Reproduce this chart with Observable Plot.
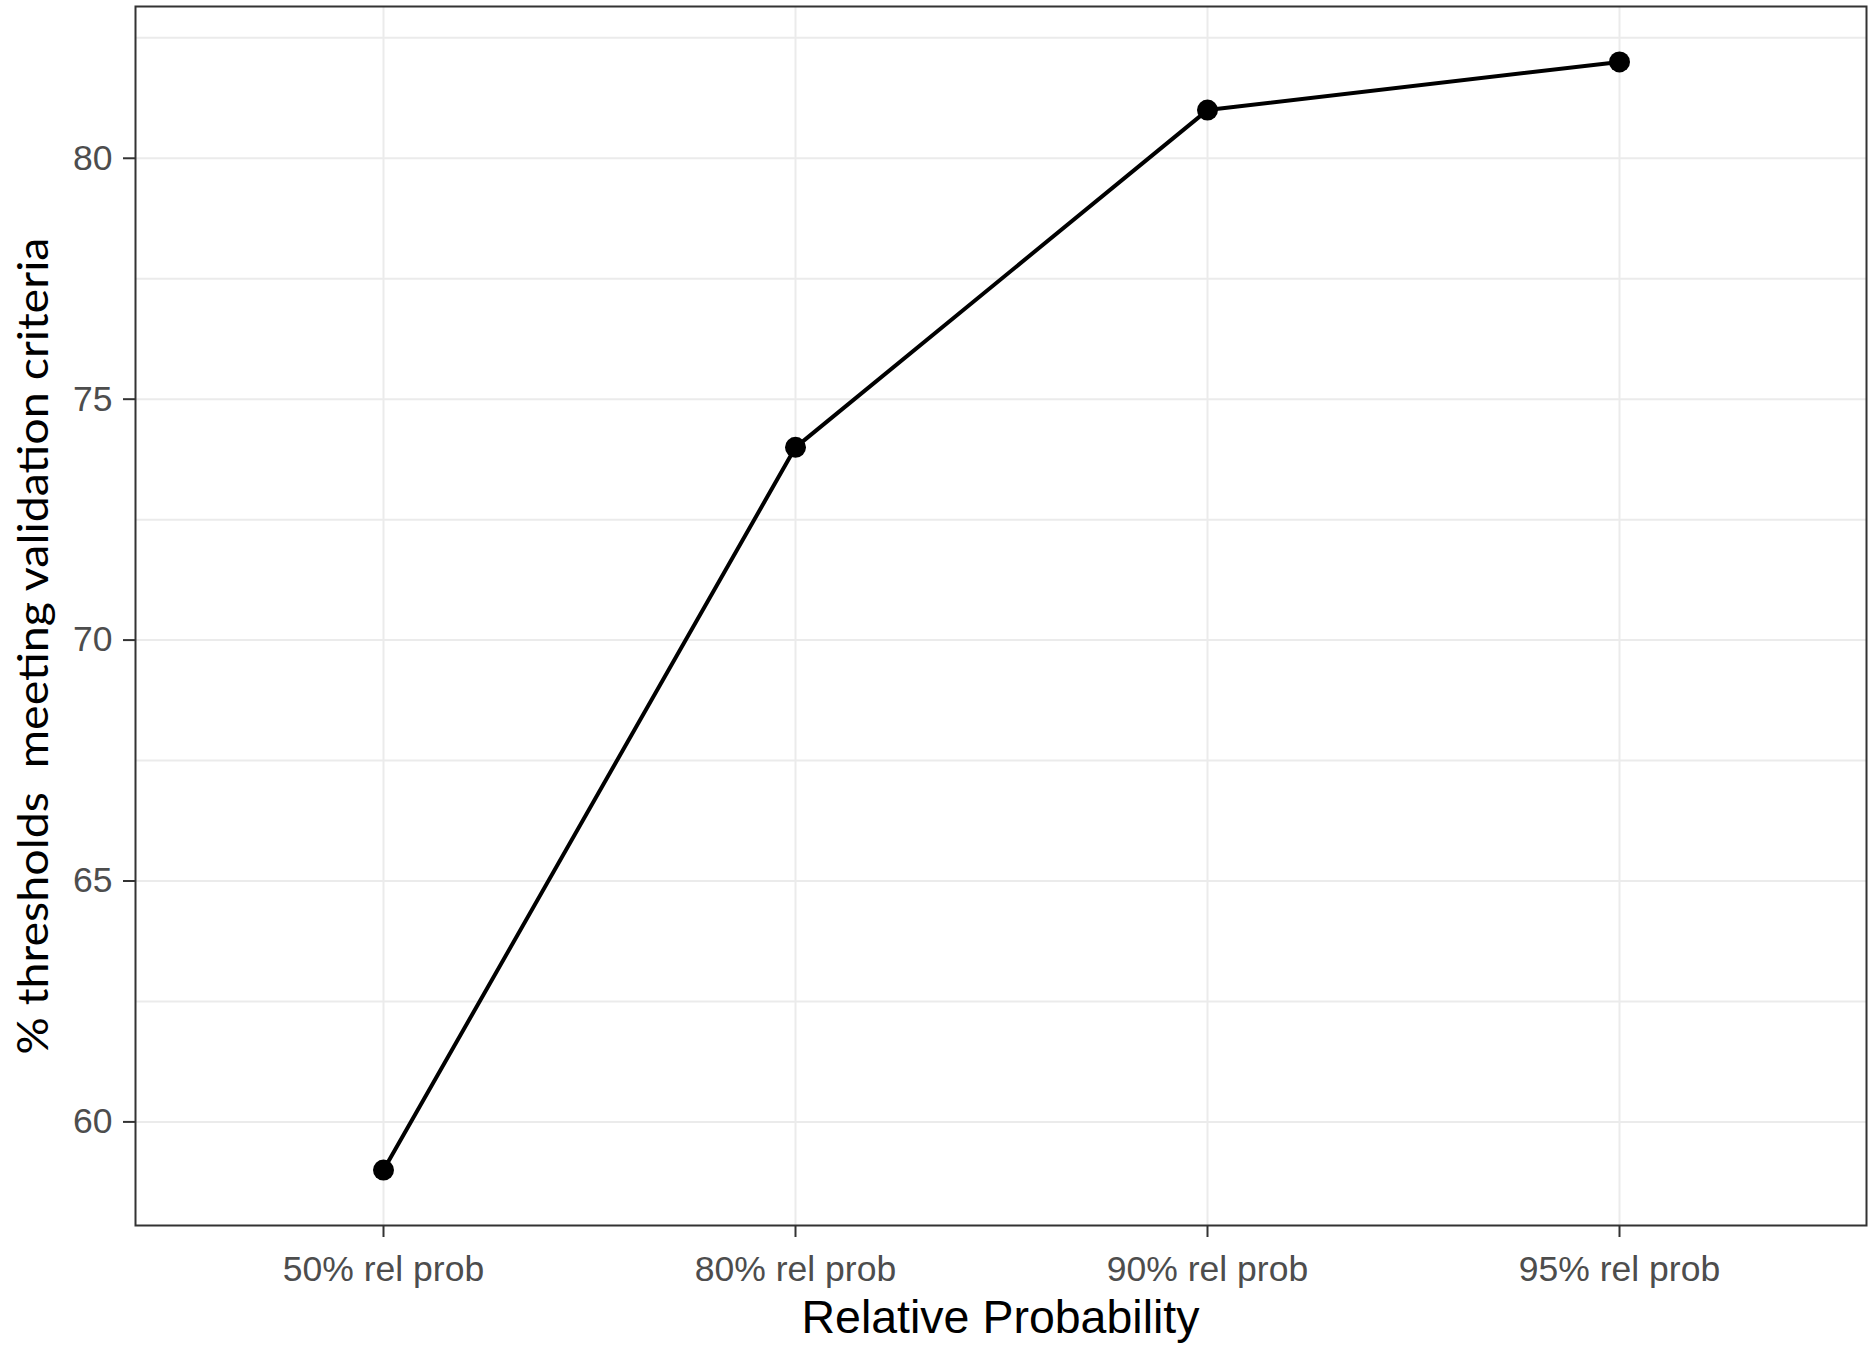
<!DOCTYPE html>
<html>
<head>
<meta charset="utf-8">
<script src="https://cdn.jsdelivr.net/npm/d3@7"></script>
<script src="https://cdn.jsdelivr.net/npm/@observablehq/plot@0.6"></script>
<style>
  html, body { margin: 0; padding: 0; background: #ffffff; }
  #chart svg { display: block; }
</style>
</head>
<body>
<div id="chart"></div>
<script>
// ---- data ----
const categories = ["50% rel prob", "80% rel prob", "90% rel prob", "95% rel prob"];
const values = [59, 74, 81, 82];
const yTicks = [60, 65, 70, 75, 80];
const yMinorGrid = [62.5, 67.5, 72.5, 77.5, 82.5];
const xTitle = "Relative Probability";
const yTitle = "% thresholds  meeting validation criteria";

const data = categories.map((c, i) => ({cat: c, val: values[i]}));

const W = 1869, H = 1355;
const mL = 135, mR = 3, mT = 6, mB = 130;
const font = "'Liberation Sans', Arial, Helvetica, sans-serif";

const plot = Plot.plot({
  width: W,
  height: H,
  marginLeft: mL,
  marginRight: mR,
  marginTop: mT,
  marginBottom: mB,
  style: {background: "#ffffff", fontFamily: font},
  x: {type: "point", domain: categories, padding: 0.6, label: null},
  y: {domain: [57.85, 83.15], label: null},
  marks: [
    Plot.ruleY(yMinorGrid, {stroke: "#ebebeb", strokeWidth: 2}),
    Plot.ruleY(yTicks, {stroke: "#ebebeb", strokeWidth: 2}),
    Plot.ruleX(categories, {stroke: "#ebebeb", strokeWidth: 2}),
    Plot.line(data, {x: "cat", y: "val", stroke: "#000000", strokeWidth: 4}),
    Plot.dot(data, {x: "cat", y: "val", r: 10.5, fill: "#000000", stroke: null}),
    Plot.frame({stroke: "#333333", strokeWidth: 2}),
    Plot.axisY(yTicks, {
      anchor: "left", tickSize: 12, tickPadding: 11, strokeWidth: 2,
      stroke: "#333333", fill: "#4d4d4d", fontSize: 35.5, label: null
    }),
    Plot.axisX(categories, {
      anchor: "bottom", tickSize: 12, tickPadding: 18, strokeWidth: 2,
      stroke: "#333333", fill: "#4d4d4d", fontSize: 35.5, label: null
    })
  ]
});

const svg = d3.select(plot);

// x-axis title
svg.append("text")
  .attr("x", (mL + (W - mR)) / 2)
  .attr("y", 1333)
  .attr("text-anchor", "middle")
  .attr("font-family", font)
  .attr("font-size", 46.5)
  .attr("fill", "#000000")
  .text(xTitle);

// y-axis title
svg.append("text")
  .attr("transform", `translate(48,646) rotate(-90)`)
  .attr("text-anchor", "middle")
  .attr("font-family", "Lato, 'Open Sans', sans-serif")
  .attr("font-size", 42)
  .attr("fill", "#000000")
  .attr("textLength", 817)
  .attr("lengthAdjust", "spacingAndGlyphs")
  .style("white-space", "pre")
  .text(yTitle);

document.getElementById("chart").appendChild(plot);
</script>
</body>
</html>
